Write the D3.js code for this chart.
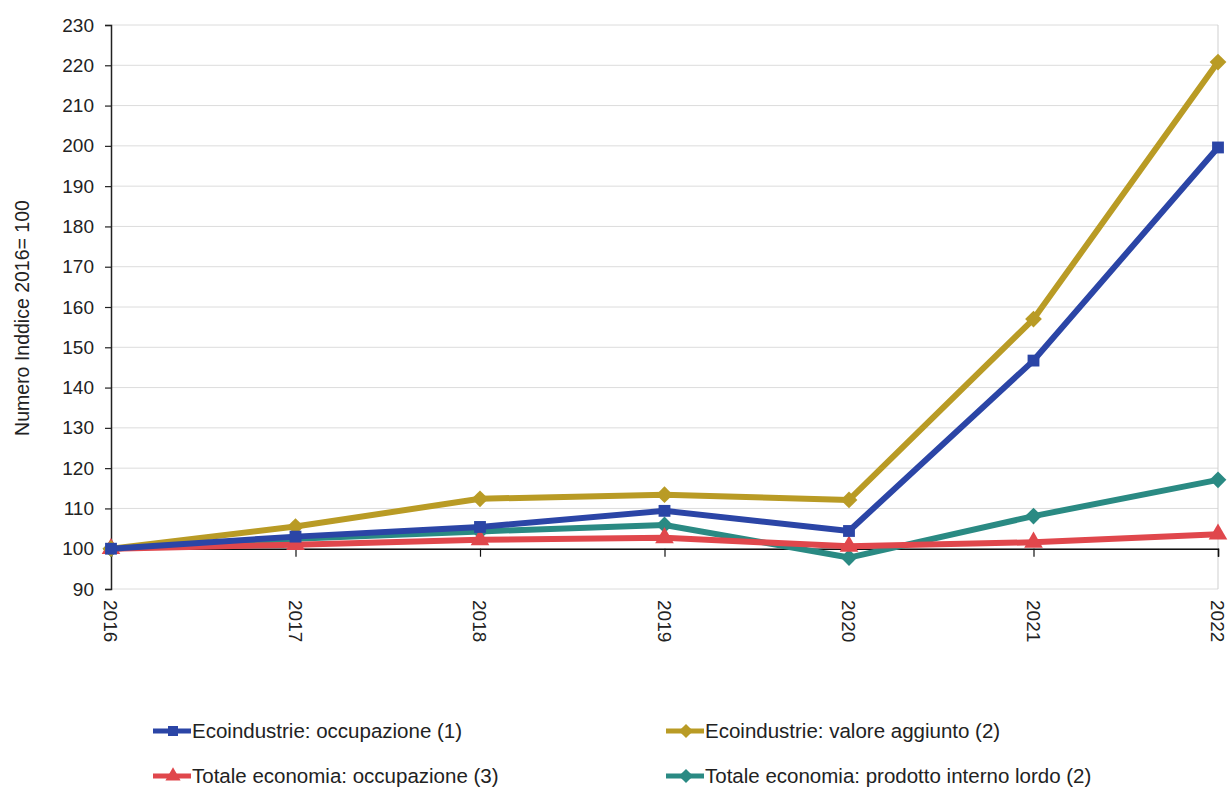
<!DOCTYPE html>
<html><head><meta charset="utf-8">
<script src="https://cdn.jsdelivr.net/npm/d3@7"></script>
<style>body{margin:0;background:#fff;} svg{display:block;font-family:"Liberation Sans",Arial,sans-serif;}</style>
</head><body><svg id="c" width="1229" height="789"></svg>
<script>
const years = ["2016","2017","2018","2019","2020","2021","2022"];
const ecoOcc = [100, 103.0, 105.4, 109.4, 104.4, 146.7, 199.6];
const ecoVal = [100, 105.5, 112.4, 113.4, 112.1, 157.0, 220.8];
const totOcc = [100, 101.0, 102.2, 102.7, 100.6, 101.6, 103.6];
const totPil = [100, 102.5, 104.3, 105.9, 97.8, 108.1, 117.1];
const seriesNames = ["Ecoindustrie: occupazione (1)","Ecoindustrie: valore aggiunto (2)","Totale economia: occupazione (3)","Totale economia: prodotto interno lordo (2)"];
const yTicks = [90,100,110,120,130,140,150,160,170,180,190,200,210,220,230];
const yTitle = "Numero Inddice 2016= 100";

const series = [
  {name: seriesNames[0], values: ecoOcc, color: "#2b45a6", marker: "square"},
  {name: seriesNames[1], values: ecoVal, color: "#b99b25", marker: "diamond"},
  {name: seriesNames[2], values: totOcc, color: "#e0474c", marker: "triangle"},
  {name: seriesNames[3], values: totPil, color: "#2a8a83", marker: "diamond"}
];
const drawOrder = [3,2,1,0];

const svg = d3.select("#c");
const L = 111, R = 1218, T = 25, B = 589;
const x = d3.scalePoint().domain(years).range([L, R]);
const y = d3.scaleLinear().domain([90, 230]).range([B, T]);

// gridlines
svg.append("g").selectAll("line").data(yTicks).join("line")
  .attr("x1", L).attr("x2", R).attr("y1", d => y(d)).attr("y2", d => y(d))
  .attr("stroke", "#dcdcdc").attr("stroke-width", 1);
// plot border right
svg.append("line").attr("x1", R).attr("x2", R).attr("y1", T).attr("y2", B).attr("stroke", "#cfcfcf");

// y axis
const yAxis = d3.axisLeft(y).tickValues(yTicks).tickSize(6).tickPadding(11);
const gy = svg.append("g").attr("transform", `translate(${L},0)`).call(yAxis);
gy.select(".domain").attr("stroke", "#222").attr("stroke-width", 1.5);
gy.selectAll(".tick line").attr("stroke", "#222").attr("stroke-width", 1.2);
gy.selectAll("text").attr("font-size", 19).attr("fill", "#222").style("font-family", '"Liberation Sans",Arial,sans-serif');

// x axis at 100
const xAxis = d3.axisBottom(x).tickSize(8).tickFormat("");
const gx = svg.append("g").attr("transform", `translate(0,${y(100)})`).call(xAxis);
gx.select(".domain").attr("stroke", "#111").attr("stroke-width", 1.5);
gx.selectAll(".tick line").attr("stroke", "#111").attr("stroke-width", 1.2);

// year labels (rotated)
svg.append("g").selectAll("text").data(years).join("text")
  .attr("transform", d => `translate(${x(d)},${B + 11}) rotate(90)`)
  .attr("dy", "0.35em").attr("text-anchor", "start")
  .attr("font-size", 19).attr("fill", "#222").text(d => d);

// y title
svg.append("text").attr("transform", `translate(22,318) rotate(-90)`)
  .attr("text-anchor", "middle").attr("dy", "0.35em").attr("font-size", 19.5).attr("fill", "#222").text(yTitle);

function markerPath(type, size) {
  if (type === "triangle") return d3.symbol(d3.symbolTriangle, size)();
  return d3.symbol(d3.symbolSquare, size)();
}
function markerRot(type) { return type === "diamond" ? " rotate(45)" : ""; }

const line = d3.line().x((d, i) => x(years[i])).y(d => y(d));
drawOrder.forEach(si => {
  const s = series[si];
  const g = svg.append("g");
  g.append("path").attr("d", line(s.values)).attr("fill", "none")
    .attr("stroke", s.color).attr("stroke-width", 6).attr("stroke-linejoin", "round");
  g.selectAll("path.m").data(s.values).join("path").attr("class", "m")
    .attr("transform", (d, i) => `translate(${x(years[i])},${y(d)})` + markerRot(s.marker))
    .attr("d", markerPath(s.marker, s.marker === "triangle" ? 150 : 140))
    .attr("fill", s.color);
});

// legend
const legPos = [[153, 731], [666, 731], [153, 776], [666, 776]];
series.forEach((s, i) => {
  const [lx, ly] = legPos[i];
  const g = svg.append("g").attr("transform", `translate(${lx},${ly})`);
  g.append("line").attr("x1", 0).attr("x2", 38).attr("y1", 0).attr("y2", 0)
    .attr("stroke", s.color).attr("stroke-width", 5);
  g.append("path").attr("transform", "translate(20,0)" + markerRot(s.marker)).attr("d", markerPath(s.marker, 100)).attr("fill", s.color);
  g.append("text").attr("x", 39).attr("y", 0).attr("dy", "0.35em").attr("font-size", 20.5)
    .attr("fill", "#222").text(s.name);
});
</script></body></html>
